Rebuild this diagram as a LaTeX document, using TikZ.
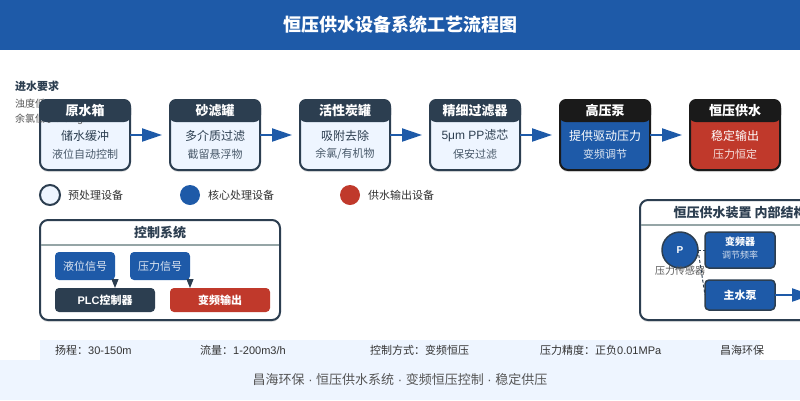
\documentclass[tikz,border=0pt]{standalone}
\usepackage{fontspec}
\setmainfont{Noto Sans CJK SC}
\newfontfamily\latinf{Liberation Sans}
\newcommand{\lat}[1]{{\latinf #1}}
\usetikzlibrary{arrows.meta,shadows,calc}
\definecolor{navy}{HTML}{2C3E50}
\definecolor{bluem}{HTML}{1E5AA8}
\definecolor{redm}{HTML}{C0392B}
\definecolor{pale}{HTML}{EEF5FF}
\definecolor{blk}{HTML}{1A1A1A}
\definecolor{rulec}{HTML}{95A5A6}
\definecolor{grayt}{HTML}{555555}
\definecolor{darkt}{HTML}{333333}
\tikzset{
 x=1pt,y=-1pt,
 softshadow/.style={drop shadow={shadow xshift=0pt,shadow yshift=-2pt,opacity=.10,fill=black}},
 stepbody/.style={draw=#1,line width=2pt,rounded corners=8pt,minimum width=90pt,minimum height=70pt,inner sep=0pt,outer sep=0pt,softshadow},
 txt/.style={inner sep=0pt,outer sep=0pt,anchor=center},
 flow/.style={draw=bluem,line width=2pt,-{Triangle[length=20pt,width=13pt,fill=bluem]},shorten >=8pt},
 flowout/.style={draw=bluem,line width=2pt,-{Triangle[length=20pt,width=13pt,fill=bluem]}},
 tiny/.style={draw=navy,line width=1pt,-{Triangle[length=9pt,width=7pt,fill=navy]}},
 panel/.style={draw=navy,line width=2pt,rounded corners=8pt,fill=white,softshadow,inner sep=0pt,outer sep=0pt},
 chip/.style={rounded corners=4pt,inner sep=0pt,txt,font=\fontsize{11}{13}\selectfont,text=#1},
 legend/.style={circle,minimum size=20pt,inner sep=0pt,outer sep=0pt,line width=2pt},
}
\newcommand{\stepbox}[4]{% name, left x, fill, border
 \node[stepbody=#4,fill=#3,anchor=north west] (#1) at (#2,100) {};
}
\newcommand{\stephead}[6]{% name, title, line1, line2, text colour, head colour
 \fill[#6,rounded corners=7pt] ($(#1.north west)+(-1,-1)$) rectangle ($(#1.north east)+(1,22)$);
 \node[txt,text=white,font=\fontsize{13}{15}\selectfont\bfseries] (#1t) at ($(#1.north)+(0,11)$) {#2};
 \node[txt,text=#5,font=\fontsize{12}{14}\selectfont] (#1a) at ($(#1.north)+(0,36)$) {#3};
 \node[txt,text=#5,font=\fontsize{11}{13}\selectfont,opacity=.85] (#1b) at ($(#1.north)+(0,54)$) {#4};
}
\begin{document}
\begin{tikzpicture}
\useasboundingbox (0,0) rectangle (800,400);
\fill[white] (0,0) rectangle (800,400);
% header
\fill[bluem] (0,0) rectangle (800,50);
\node[txt,text=white,font=\fontsize{18}{22}\selectfont\bfseries] (title) at (400,25) {恒压供水设备系统工艺流程图};
% footer
\fill[pale] (0,360) rectangle (800,400);
\fill[pale] (40,340) rectangle (760,360);
\node[txt,text=grayt,font=\fontsize{13}{15}\selectfont] (foot) at (400,380) {昌海环保\lat{ · }恒压供水系统\lat{ · }变频恒压控制\lat{ · }稳定供压};
% spec strip
\begin{scope}[every node/.style={inner sep=0pt,anchor=base west,text=darkt,font=\fontsize{11}{13}\selectfont}]
\node (s1) at (55,354) {扬程：\lat{30-150m}};
\node (s2) at (200,354) {流量：\lat{1-200m3/h}};
\node (s3) at (370,354) {控制方式：变频恒压};
\node (s4) at (540,354) {压力精度：正负\lat{0.01MPa}};
\node (s5) at (720,354) {昌海环保};
\end{scope}
% steps
\stepbox{a}{40}{pale}{navy}
\stepbox{b}{170}{pale}{navy}
\stepbox{c}{300}{pale}{navy}
\stepbox{d}{430}{pale}{navy}
\stepbox{e}{560}{bluem}{blk}
\stepbox{f}{690}{redm}{blk}
% requirement text
\node[inner sep=0pt,anchor=base west,text=navy,font=\fontsize{11}{13}\selectfont\bfseries] (req) at (15,90) {进水要求};
\node[inner sep=0pt,anchor=base west,text=grayt,font=\fontsize{10}{12}\selectfont] (req1) at (15,107) {浊度低于\lat{5NTU}};
\node[inner sep=0pt,anchor=base west,text=grayt,font=\fontsize{10}{12}\selectfont] (req2) at (15,122) {余氯低于\lat{0.3mg/L}};
\stephead{a}{原水箱}{储水缓冲}{液位自动控制}{navy}{navy}
\stephead{b}{砂滤罐}{多介质过滤}{截留悬浮物}{navy}{navy}
\stephead{c}{活性炭罐}{吸附去除}{余氯/有机物}{navy}{navy}
\stephead{d}{精细过滤器}{\lat{5μm PP}滤芯}{保安过滤}{navy}{navy}
\stephead{e}{高压泵}{提供驱动压力}{变频调节}{white}{blk}
\stephead{f}{恒压供水}{稳定输出}{压力恒定}{white}{blk}
% flow arrows
\draw[flow] (a.east) -- (b.west);
\draw[flow] (b.east) -- (c.west);
\draw[flow] (c.east) -- (d.west);
\draw[flow] (d.east) -- (e.west);
\draw[flow] (e.east) -- (f.west);
% legend
\node[legend,draw=navy,fill=pale] (l1) at (50,195) {};
\node[legend,fill=bluem] (l2) at (190,195) {};
\node[legend,fill=redm] (l3) at (350,195) {};
\begin{scope}[every node/.style={inner sep=0pt,anchor=west,text=darkt,font=\fontsize{11}{13}\selectfont}]
\node (lt1) at (68,195) {预处理设备};
\node (lt2) at (208,195) {核心处理设备};
\node (lt3) at (368,195) {供水输出设备};
\end{scope}
% control panel
\node[panel,anchor=north west,minimum width=240pt,minimum height=100pt] (ctl) at (40,220) {};
\draw[rulec,line width=1.5pt] (41,245) -- (279,245);
\node[txt,text=navy,font=\fontsize{13}{15}\selectfont\bfseries] (ctlt) at (160,233) {控制系统};
\node[chip=white!85!bluem,fill=bluem,minimum width=60pt,minimum height=28pt] (sig1) at (85,266) {液位信号};
\node[chip=white!85!bluem,fill=bluem,minimum width=60pt,minimum height=28pt] (sig2) at (160,266) {压力信号};
\node[chip=white,fill=navy,minimum width=100pt,minimum height=24pt,font=\fontsize{11}{13}\selectfont\bfseries] (plc) at (105,300) {\lat{PLC}控制器};
\node[chip=white,fill=redm,minimum width=100pt,minimum height=24pt,font=\fontsize{11}{13}\selectfont\bfseries] (vfd) at (220,300) {变频输出};
\draw[tiny] (115,0 |- sig1.south) -- (115,0 |- plc.north);
\draw[tiny] (190,0 |- sig2.south) -- (190,0 |- vfd.north);
% device panel
\node[panel,anchor=north west,minimum width=240pt,minimum height=120pt] (dev) at (640,200) {};
\begin{scope}
\clip (0,0) rectangle (800,400);
\draw[rulec,line width=1.5pt] (641,225) -- (800,225);
\node[inner sep=0pt,anchor=west,text=navy,font=\fontsize{13}{15}\selectfont\bfseries] (devt) at (673.5,213) {恒压供水装置 内部结构};
\end{scope}
\node[circle,draw=navy,line width=1.5pt,fill=bluem,minimum size=36pt,inner sep=0pt,outer sep=0pt,text=white,font=\fontsize{10}{12}\selectfont\bfseries\latinf] (p) at (680,250) {P};
\node[txt,text=grayt,font=\fontsize{10}{12}\selectfont] (pl) at (680,271) {压力传感器};
\node[draw=navy,line width=1.5pt,fill=bluem,rounded corners=4pt,minimum width=70pt,minimum height=36pt,inner sep=0pt,outer sep=0pt] (inv) at (740,250) {};
\node[txt,text=white,font=\fontsize{10}{12}\selectfont\bfseries] (invt) at (740,241.5) {变频器};
\node[txt,text=white!80!bluem,font=\fontsize{9}{11}\selectfont] (invs) at (740,255) {调节频率};
\node[draw=navy,line width=1.5pt,fill=bluem,rounded corners=4pt,minimum width=70pt,minimum height=30pt,inner sep=0pt,outer sep=0pt,text=white,font=\fontsize{11}{13}\selectfont\bfseries] (pump) at (740,295) {主水泵};
\draw[navy,line width=1pt,dash pattern=on 3pt off 2pt] (p.east) -- (inv.west);
\draw[navy,line width=1pt,dash pattern=on 3pt off 2pt] (p.east) -- (pump.west);
\coordinate (out) at (812,295);
\draw[flowout] (pump.east) -- (out);
\end{tikzpicture}
\end{document}
